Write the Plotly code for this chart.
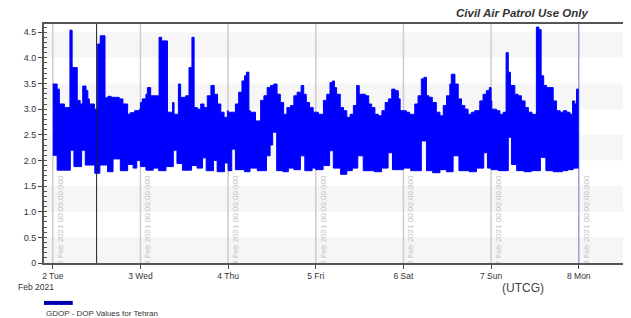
import plotly.graph_objects as go
import pandas as pd

# ---- data (hours since 2 Feb 2021 00:00 UTCG) ----
up_hours = [0.0, 1.2, 1.8, 3.2, 4.7, 5.3, 6.7, 7.5, 8.2, 9.1, 9.6, 10.0, 11.4, 12.3, 13.0, 14.3, 15.1, 16.0, 18.2, 19.2, 20.5, 21.2, 22.4, 23.7,
            24.0, 24.5, 25.5, 25.9, 26.8, 28.4, 29.1, 29.8, 31.4, 32.8, 33.2, 34.4, 35.0, 36.4, 37.3, 38.1, 38.7, 39.6, 40.5, 41.4, 42.3, 43.3, 44.2, 45.1, 46.0, 46.9, 47.8,
            48.0, 50.0, 50.9, 51.8, 52.5, 53.0, 53.7, 54.1, 55.5, 56.9, 57.8, 58.7, 59.6, 60.5, 61.4, 62.3, 63.2, 64.1, 65.1, 66.0, 66.9, 68.0, 68.7, 69.4, 70.3, 71.3,
            72.0, 72.7, 74.1, 75.0, 75.9, 76.6, 77.1, 77.7, 78.7, 79.6, 80.5, 81.4, 82.3, 83.2, 83.9, 85.6, 86.5, 87.3, 88.2, 89.1, 90.1, 91.0, 91.9, 92.8, 93.7, 94.6, 95.1,
            96.0, 96.8, 97.7, 99.1, 100.0, 100.9, 101.6, 102.3, 103.0, 103.9, 105.0, 106.0, 106.9, 107.8, 108.7, 109.1, 110.1, 111.0, 111.9, 112.8, 113.7, 114.6, 115.5, 116.9, 117.8, 118.7, 119.5,
            120.0, 120.2, 121.5, 122.4, 123.3, 124.1, 124.7, 125.3, 126.5, 127.4, 128.3, 129.3, 130.2, 131.2, 132.4, 133.1, 133.7, 134.4, 135.2, 137.0, 137.9, 138.9, 139.8, 140.7, 141.6, 142.3, 142.9, 143.4, 144.0]
up_vals = [3.49, 3.39, 3.10, 3.03, 4.54, 3.81, 3.17, 3.10, 3.45, 3.36, 3.20, 3.10, 3.00, 4.27, 4.43, 3.22, 3.25, 3.23, 3.20, 3.10, 2.90, 2.93, 2.97, 3.00,
           3.13, 3.20, 3.29, 3.42, 3.26, 3.26, 4.40, 4.33, 2.94, 3.13, 2.90, 3.49, 3.23, 3.26, 3.81, 4.40, 3.03, 3.00, 3.10, 3.03, 3.26, 3.46, 3.29, 3.10, 2.94, 2.84, 2.97,
           2.94, 3.10, 3.33, 3.55, 3.65, 3.72, 2.97, 2.94, 2.77, 3.17, 3.26, 3.42, 3.46, 3.49, 3.29, 3.13, 2.90, 3.03, 3.07, 3.26, 3.33, 3.46, 3.29, 3.13, 3.03, 2.94,
           2.94, 2.90, 3.17, 3.29, 3.52, 3.55, 3.42, 3.29, 3.03, 2.97, 2.84, 2.90, 3.07, 3.46, 3.29, 3.26, 3.10, 3.03, 2.90, 2.87, 2.97, 3.13, 3.20, 3.39, 3.36, 3.20, 2.97,
           2.97, 2.94, 2.90, 3.10, 3.26, 3.59, 3.62, 3.26, 3.23, 3.13, 2.94, 2.87, 3.07, 3.26, 3.49, 3.68, 3.49, 3.20, 3.07, 3.00, 2.90, 2.94, 2.97, 3.16, 3.29, 3.36, 3.42,
           3.16, 3.00, 2.97, 2.90, 2.94, 4.10, 3.72, 3.46, 3.29, 3.26, 3.16, 3.03, 2.94, 2.90, 4.60, 4.55, 3.65, 3.46, 3.42, 3.16, 2.97, 2.94, 2.97, 2.94, 2.90, 3.16, 3.10, 3.39, 3.39]

lo_hours = [0.0, 1.2, 4.8, 5.8, 7.9, 8.9, 11.5, 12.9, 15.0, 16.5, 18.5, 20.5, 22.0, 23.0,
            24.0, 25.5, 27.5, 29.0, 31.0, 33.0, 34.0, 35.5, 38.0, 39.5, 41.0, 42.0, 44.0, 45.0, 47.0,
            48.0, 49.0, 50.0, 52.5, 54.0, 56.0, 58.5, 59.5, 60.2, 61.3, 63.0, 64.5, 66.0, 67.8, 69.0, 71.0,
            72.0, 74.0, 75.8, 76.8, 78.8, 80.5, 82.0, 83.5, 85.0, 88.0, 90.0, 91.8, 93.0,
            96.0, 98.0, 100.9, 102.3, 104.0, 106.0, 107.8, 109.6, 111.2, 114.0, 116.0, 118.0, 119.0,
            120.0, 122.0, 124.7, 125.6, 127.0, 129.0, 131.0, 133.5, 135.0, 137.0, 139.5, 141.0, 142.5, 144.0]
lo_vals = [2.10, 1.81, 2.20, 1.88, 2.20, 1.91, 1.75, 1.91, 1.78, 2.03, 1.80, 1.92, 1.85, 2.00,
           1.88, 1.81, 1.85, 1.80, 1.88, 2.20, 1.94, 1.81, 1.90, 1.85, 2.05, 1.80, 2.00, 1.78, 1.95,
           1.80, 2.22, 1.82, 1.78, 1.85, 1.80, 2.09, 2.30, 2.55, 1.80, 1.78, 1.85, 1.82, 2.09, 1.80, 1.85,
           1.82, 1.90, 2.19, 1.85, 1.73, 1.80, 1.85, 2.09, 1.80, 1.78, 1.85, 2.15, 1.82,
           1.85, 1.80, 2.38, 1.80, 1.76, 1.82, 1.78, 2.09, 1.80, 1.78, 1.85, 2.15, 1.85,
           1.82, 1.80, 2.45, 1.92, 1.80, 1.78, 1.80, 2.06, 1.80, 1.78, 1.80, 1.82, 1.85, 1.85]

day_labels = ["2 Tue", "3 Wed", "4 Thu", "5 Fri", "6 Sat", "7 Sun", "8 Mon"]
grid_labels = ["2 Feb 2021 00:00:00.000", "3 Feb 2021 00:00:00.000", "4 Feb 2021 00:00:00.000",
               "5 Feb 2021 00:00:00.000", "6 Feb 2021 00:00:00.000", "7 Feb 2021 00:00:00.000",
               "8 Feb 2021 00:00:00.000"]
y_tickvals = [0, 0.5, 1.0, 1.5, 2.0, 2.5, 3.0, 3.5, 4.0, 4.5]
y_ticktext = ["0", "0.5", "1.0", "1.5", "2.0", "2.5", "3.0", "3.5", "4.0", "4.5"]
legend_name = "GDOP - DOP Values for Tehran"

base = pd.Timestamp("2021-02-02 00:00:00")
def t(h):
    return base + pd.to_timedelta(h, unit="h")

up_x = [t(h) for h in up_hours]
lo_x = [t(h) for h in lo_hours]
day_x = [t(24 * i) for i in range(len(day_labels))]

FONT = "Liberation Sans, Arial, sans-serif"
BLUE = "#0000ff"

fig = go.Figure()
fig.add_trace(go.Scatter(x=lo_x, y=lo_vals, mode="lines",
                         line=dict(color=BLUE, width=1, shape="hv"),
                         showlegend=False, hoverinfo="skip"))
fig.add_trace(go.Scatter(x=up_x, y=up_vals, mode="lines", name=legend_name,
                         line=dict(color=BLUE, width=1, shape="hv"),
                         fill="tonexty", fillcolor=BLUE, showlegend=False))

shapes = []
# alternating bands
for y0 in [0, 1.0, 2.0, 3.0, 4.0]:
    shapes.append(dict(type="rect", xref="paper", yref="y", x0=0, x1=1, y0=y0, y1=y0 + 0.5,
                       fillcolor="#f6f6f6", line=dict(width=0), layer="below"))
# day grid lines with rotated labels
for i, dx in enumerate(day_x):
    col = "#a0a0d0" if i == len(day_x) - 1 else "#cccccc"
    shapes.append(dict(type="line", xref="x", yref="paper", x0=dx, x1=dx, y0=0, y1=1,
                       line=dict(color=col, width=1.5), layer="below",
                       label=dict(text=grid_labels[i], textangle=-90, textposition="start",
                                  xanchor="left", yanchor="top", padding=2,
                                  font=dict(family=FONT, size=8, color="#c0c0c0"))))
# current-time marker
shapes.append(dict(type="line", xref="x", yref="paper", x0=t(12), x1=t(12), y0=0, y1=1,
                   line=dict(color="#222222", width=1), layer="above"))
# legend swatch
shapes.append(dict(type="line", xref="paper", yref="paper", x0=0, x1=0.049, y0=-0.167, y1=-0.167,
                   line=dict(color="#0000b0", width=4)))

annotations = [
    dict(text="<b><i>Civil Air Patrol Use Only</i></b>", xref="paper", yref="paper", x=0.814, y=1.048,
         xanchor="center", yanchor="middle", showarrow=False,
         font=dict(family=FONT, size=11.5, color="#333333")),
    dict(text="(UTCG)", xref="paper", yref="paper", x=0.816, y=-0.105, xanchor="center", yanchor="middle",
         showarrow=False, font=dict(family=FONT, size=12, color="#444444")),
    dict(text="Feb 2021", xref="paper", yref="paper", x=-0.0136, y=-0.102, xanchor="center", yanchor="middle",
         showarrow=False, font=dict(family=FONT, size=8.5, color="#333333")),
    dict(text=legend_name, xref="paper", yref="paper", x=0, y=-0.213, xanchor="left", yanchor="middle",
         showarrow=False, font=dict(family=FONT, size=8, color="#333333")),
]

# The page body adds an 8px offset, so the figure is sized/margined to compensate.
fig.update_layout(
    width=623, height=310,
    margin=dict(l=36, r=0, t=16, b=55),
    paper_bgcolor="white", plot_bgcolor="white",
    shapes=shapes, annotations=annotations,
    showlegend=False,
    xaxis=dict(type="date", range=[t(-2.4), t(158.3)], tickmode="array", tickvals=day_x, ticktext=day_labels,
               ticks="outside", ticklen=4, tickcolor="#444444", showgrid=False, zeroline=False,
               showline=True, linecolor="#555555", linewidth=2, mirror=True, automargin=False,
               tickfont=dict(family=FONT, size=8.5, color="#333333")),
    yaxis=dict(range=[0, 4.66], tickmode="array", tickvals=y_tickvals, ticktext=y_ticktext,
               ticks="outside", ticklen=4, tickcolor="#444444", showgrid=False, zeroline=False,
               showline=True, linecolor="#555555", linewidth=2, automargin=False,
               minor=dict(tickmode="linear", tick0=0, dtick=0.1, ticks="inside", ticklen=3, tickcolor="#555555"),
               tickfont=dict(family=FONT, size=9, color="#333333")),
)

fig.write_html("out.html")
